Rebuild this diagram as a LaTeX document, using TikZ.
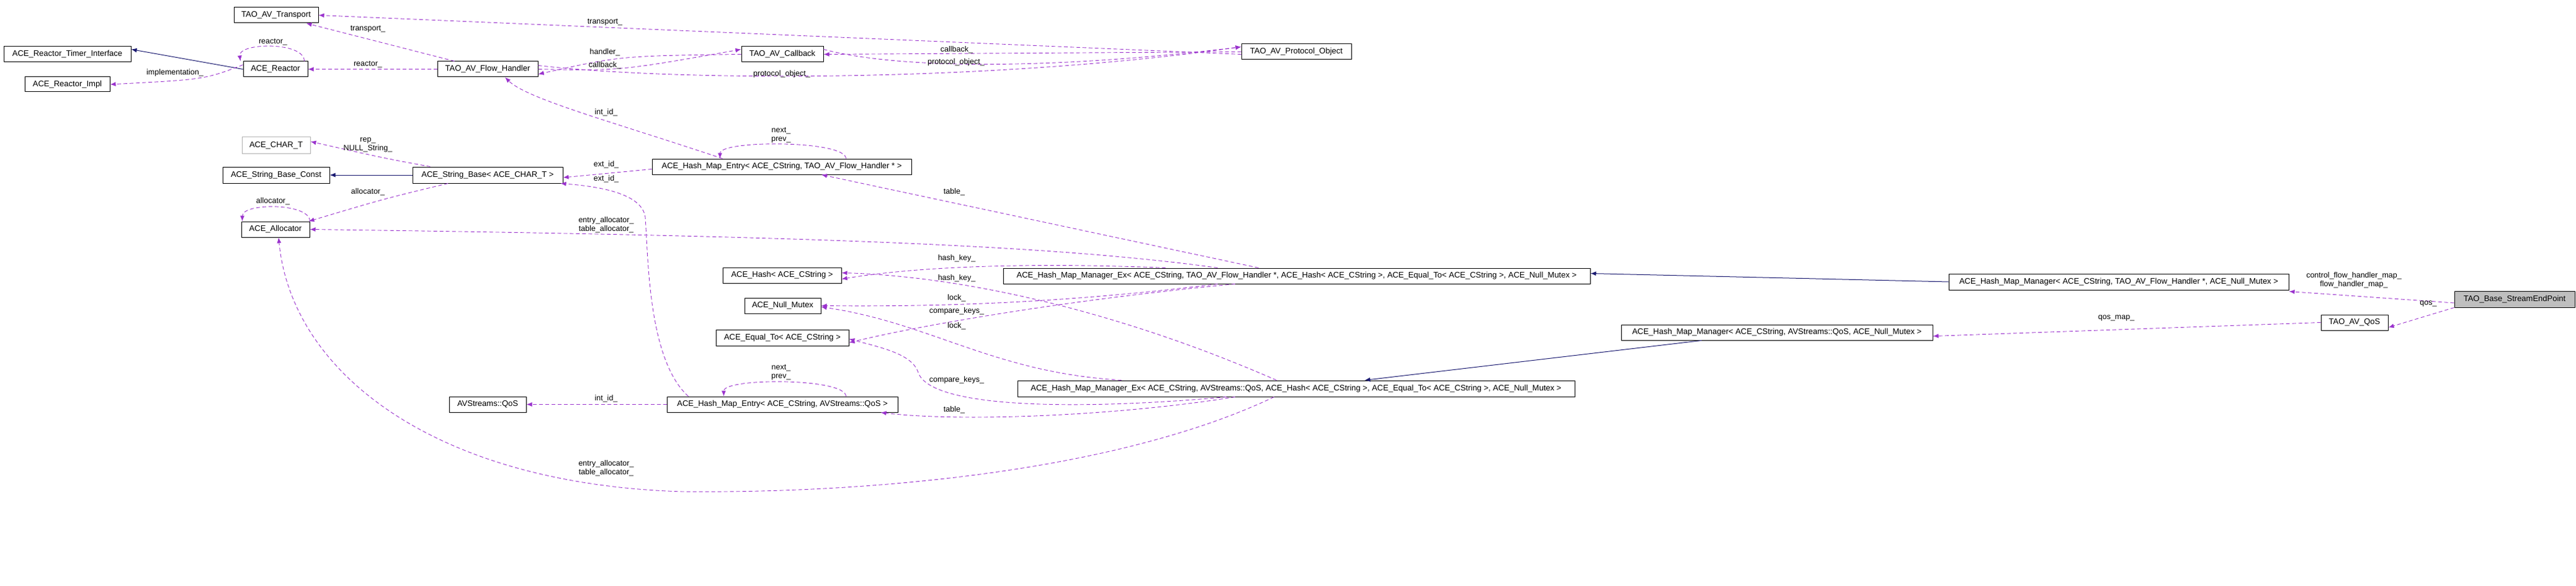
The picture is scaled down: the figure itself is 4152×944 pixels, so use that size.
\documentclass[tikz,border=0pt]{standalone}
\usepackage{fontspec}
\setmainfont{Liberation Sans}
\usetikzlibrary{arrows.meta}
\definecolor{use}{HTML}{9A32CD}
\definecolor{inh}{HTML}{191970}
\begin{document}
\begin{tikzpicture}[x=1pt,y=-1pt,
  font=\fontsize{13}{14}\selectfont,
  box/.style={draw=black,line width=1pt,fill=white,inner sep=0pt,minimum height=25pt},
  uses/.style={draw=use,dashed,dash pattern=on 6pt off 4pt,line width=0.9pt,-{Latex[length=9pt,width=7pt]}},
  inherit/.style={draw=inh,line width=1pt,-{Latex[length=9pt,width=7pt]}},
  lbl/.style={inner sep=0pt,align=center,font=\fontsize{12.5}{14}\selectfont}]
\useasboundingbox (0,0) rectangle (4152,944);
\fill[white] (0,0) rectangle (4152,944);
% boxes
\node[box,minimum width=136] (tr) at (445,24.5) {TAO\_AV\_Transport};
\node[box,minimum width=205] (rti) at (108.5,87.5) {ACE\_Reactor\_Timer\_Interface};
\node[box,minimum width=104] (re) at (444,111.5) {ACE\_Reactor};
\node[box,minimum width=137,minimum height=24] (rimpl) at (108.5,136) {ACE\_Reactor\_Impl};
\node[box,minimum width=162] (fh) at (786,111.5) {TAO\_AV\_Flow\_Handler};
\node[box,minimum width=132] (cb) at (1261,87.5) {TAO\_AV\_Callback};
\node[box,minimum width=177] (po) at (2089.5,83.5) {TAO\_AV\_Protocol\_Object};
\node[box,draw=gray!60,minimum width=110,minimum height=26] (chart) at (445,234) {ACE\_CHAR\_T};
\node[box,minimum width=172,minimum height=26] (sbc) at (445,282) {ACE\_String\_Base\_Const};
\node[box,minimum width=242,minimum height=26] (sb) at (786,282) {ACE\_String\_Base< ACE\_CHAR\_T >};
\node[box,minimum width=418] (hmef) at (1260,268.5) {ACE\_Hash\_Map\_Entry< ACE\_CString, TAO\_AV\_Flow\_Handler * >};
\node[box,minimum width=110] (alloc) at (444,369.5) {ACE\_Allocator};
\node[box,minimum width=191] (hash) at (1260.5,443.5) {ACE\_Hash< ACE\_CString >};
\node[box,minimum width=123] (mutex) at (1261.5,492.5) {ACE\_Null\_Mutex};
\node[box,minimum width=214,minimum height=26] (eq) at (1261,544) {ACE\_Equal\_To< ACE\_CString >};
\node[box,minimum width=124] (qos) at (786,651.5) {AVStreams::QoS};
\node[box,minimum width=372] (hmeq) at (1261,651.5) {ACE\_Hash\_Map\_Entry< ACE\_CString, AVStreams::QoS >};
\node[box,minimum width=946] (hmmexf) at (2090,444.5) {ACE\_Hash\_Map\_Manager\_Ex< ACE\_CString, TAO\_AV\_Flow\_Handler *, ACE\_Hash< ACE\_CString >, ACE\_Equal\_To< ACE\_CString >, ACE\_Null\_Mutex >};
\node[box,minimum width=898,minimum height=26] (hmmexq) at (2089,626) {ACE\_Hash\_Map\_Manager\_Ex< ACE\_CString, AVStreams::QoS, ACE\_Hash< ACE\_CString >, ACE\_Equal\_To< ACE\_CString >, ACE\_Null\_Mutex >};
\node[box,minimum width=548,minimum height=26] (hmmf) at (3415,454) {ACE\_Hash\_Map\_Manager< ACE\_CString, TAO\_AV\_Flow\_Handler *, ACE\_Null\_Mutex >};
\node[box,fill=gray!50,minimum width=194,minimum height=26] (sep) at (4053,482) {TAO\_Base\_StreamEndPoint};
\node[box,minimum width=108] (avqos) at (3795,519.5) {TAO\_AV\_QoS};
\node[box,minimum width=502] (hmmq) at (2864,535.5) {ACE\_Hash\_Map\_Manager< ACE\_CString, AVStreams::QoS, ACE\_Null\_Mutex >};
% inheritance
\draw[inherit] (re.west) -- ([yshift=8]rti.east);
\draw[inherit] (sb.west) -- (sbc.east);
\draw[inherit] (hmmf.west) -- ([yshift=4]hmmexf.east);
\draw[inherit] ([xshift=130]hmmq.south west) -- ([xshift=560]hmmexq.north west);
% usage
\draw[uses] ([xshift=28]fh.north west) -- ([xshift=-20]tr.south east);
\node[lbl] at (593,47) {transport\_};
\draw[uses] ([yshift=-4]po.west) -- (tr.east);
\node[lbl] at (975,36) {transport\_};
\draw[uses] ([xshift=-6]re.north east) .. controls +(0,-32) and +(-4,-30) .. ([xshift=-4]re.north west);
\node[lbl] at (440,68) {reactor\_};
\draw[uses] (fh.west) -- (re.east);
\node[lbl] at (593,104) {reactor\_};
\draw[uses] ([yshift=7]re.west) .. controls (330,128) .. (rimpl.east);
\node[lbl] at (282,117) {implementation\_};
\draw[uses] (cb.west) .. controls (1000,90) .. ([yshift=-8]fh.east);
\node[lbl] at (975,84) {handler\_};
\draw[uses] (fh.east) .. controls (1000,114) .. ([yshift=8]cb.west);
\node[lbl] at (975,105) {callback\_};
\draw[uses] (po.west) -- (cb.east);
\node[lbl] at (1542,80) {callback\_};
\draw[uses] ([yshift=8]cb.east) .. controls (1450,112) and (1700,112) .. ([yshift=8]po.west);
\node[lbl] at (1541,100) {protocol\_object\_};
\draw[uses] ([yshift=6]fh.east) .. controls (1100,132) and (1600,132) .. ([yshift=8]po.west);
\node[lbl] at (1260,119) {protocol\_object\_};
\draw[uses] ([xshift=114]hmef.north west) .. controls (1000,200) and (850,160) .. ([xshift=28]fh.south);
\node[lbl] at (977,181) {int\_id\_};
\draw[uses] ([yshift=-4]hmef.west) -- ([yshift=-4]sb.east);
\node[lbl] at (977,265) {ext\_id\_};
\draw[uses] ([xshift=35]hmeq.north west) .. controls (1045,580) and (1045,420) .. (1040,350) .. controls (1035,310) and (960,300) .. ([xshift=-4]sb.south east);
\node[lbl] at (977,288) {ext\_id\_};
\draw[uses] ([xshift=-106]hmef.north east) .. controls +(0,-30) and +(0,-30) .. ([xshift=110]hmef.north west);
\node[lbl] at (1259,218) {next\_\\prev\_};
\draw[uses] ([xshift=29]sb.north west) .. controls (620,255) .. ([yshift=6]chart.east);
\node[lbl] at (593,233) {rep\_\\NULL\_String\_};
\draw[uses] ([xshift=-64]sb.south) .. controls (620,320) .. ([xshift=-2]alloc.north east);
\node[lbl] at (593,309) {allocator\_};
\draw[uses] (alloc.north east) .. controls +(0,-30) and +(0,-30) .. ([xshift=2]alloc.north west);
\node[lbl] at (440,324) {allocator\_};
\draw[uses] ([xshift=346]hmmexf.north west) .. controls (1700,395) and (1300,380) .. (alloc.east);
\node[lbl] at (977,362) {entry\_allocator\_\\table\_allocator\_};
\draw[uses] ([xshift=412]hmmexf.north west) -- ([xshift=64]hmef.south);
\node[lbl] at (1538,309) {table\_};
\draw[uses] ([xshift=262]hmmexf.north west) .. controls (1700,424) and (1500,426) .. ([yshift=-6]hash.east);
\node[lbl] at (1542,416) {hash\_key\_};
\draw[uses] ([xshift=418]hmmexq.north west) .. controls (1800,500) and (1550,445) .. ([yshift=4]hash.east);
\node[lbl] at (1542,448) {hash\_key\_};
\draw[uses] ([xshift=346]hmmexf.south west) .. controls (1700,490) and (1500,494) .. (mutex.east);
\node[lbl] at (1542,480) {lock\_};
\draw[uses] ([xshift=168]hmmexq.north west) .. controls (1600,600) and (1500,520) .. ([yshift=-2]mutex.east);
\node[lbl] at (1542,525) {lock\_};
\draw[uses] ([xshift=374]hmmexf.south west) .. controls (1750,480) and (1500,520) .. ([yshift=-8]eq.east);
\node[lbl] at (1542,501) {compare\_keys\_};
\draw[uses] ([xshift=337]hmmexq.south west) .. controls (1750,660) and (1500,660) .. (1480,600) .. controls (1470,570) and (1420,560) .. ([yshift=-2]eq.east);
\node[lbl] at (1542,612) {compare\_keys\_};
\draw[uses] ([xshift=351]hmmexq.south west) .. controls (1800,670) and (1550,680) .. ([xshift=-28]hmeq.south east);
\node[lbl] at (1538,660) {table\_};
\draw[uses] (hmeq.west) -- (qos.east);
\node[lbl] at (977,642) {int\_id\_};
\draw[uses] ([xshift=-84]hmeq.north east) .. controls +(0,-30) and +(0,-30) .. ([xshift=92]hmeq.north west);
\node[lbl] at (1259,600) {next\_\\prev\_};
\draw[uses] ([xshift=414]hmmexq.south west) .. controls (1800,760) and (1400,795) .. (1100,792) .. controls (700,780) and (470,600) .. ([xshift=5]alloc.south);
\node[lbl] at (977,754) {entry\_allocator\_\\table\_allocator\_};
\draw[uses] ([yshift=-6]sep.west) -- ([yshift=-2]hmmf.south east);
\node[lbl] at (3794,451) {control\_flow\_handler\_map\_\\flow\_handler\_map\_};
\draw[uses] (sep.south west) -- ([yshift=-8]avqos.east);
\node[lbl] at (3914,489) {qos\_};
\draw[uses] (avqos.west) -- ([yshift=-6]hmmq.east);
\node[lbl] at (3411,512) {qos\_map\_};
\end{tikzpicture}
\end{document}
